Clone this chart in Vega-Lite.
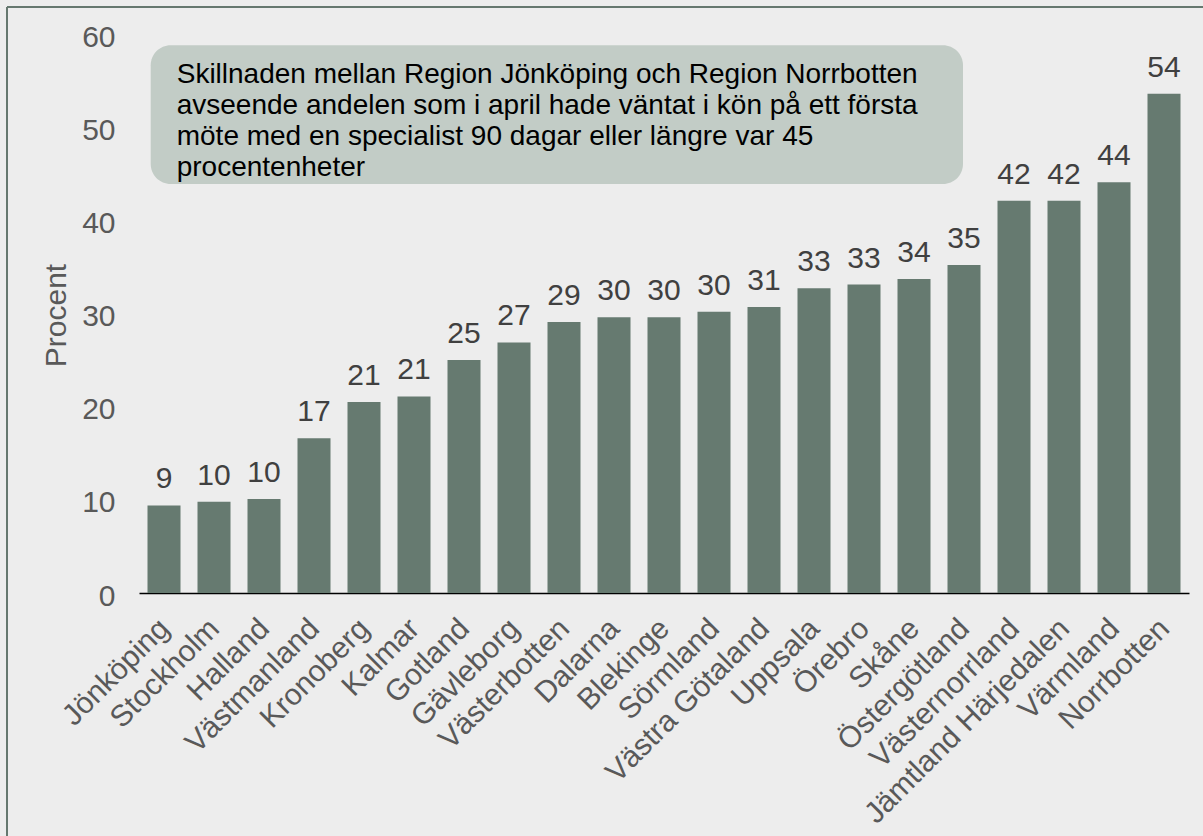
{
  "$schema": "https://vega.github.io/schema/vega-lite/v6.json",
  "width": 1050,
  "height": 559,
  "autosize": {"type": "none"},
  "padding": {"left": 139, "top": 34, "right": 14, "bottom": 243},
  "background": "#EDEDED",
  "config": {"view": {"stroke": null}, "font": "Liberation Sans"},
  "layer": [
    {
      "data": {
        "values": [
          {"region": "Jönköping", "value": 9.4},
          {"region": "Stockholm", "value": 9.8},
          {"region": "Halland", "value": 10.1},
          {"region": "Västmanland", "value": 16.6},
          {"region": "Kronoberg", "value": 20.5},
          {"region": "Kalmar", "value": 21.1},
          {"region": "Gotland", "value": 25.0},
          {"region": "Gävleborg", "value": 26.9},
          {"region": "Västerbotten", "value": 29.1},
          {"region": "Dalarna", "value": 29.6},
          {"region": "Blekinge", "value": 29.6},
          {"region": "Sörmland", "value": 30.2},
          {"region": "Västra Götaland", "value": 30.7},
          {"region": "Uppsala", "value": 32.7},
          {"region": "Örebro", "value": 33.1},
          {"region": "Skåne", "value": 33.7},
          {"region": "Östergötland", "value": 35.2},
          {"region": "Västernorrland", "value": 42.1},
          {"region": "Jämtland Härjedalen", "value": 42.1},
          {"region": "Värmland", "value": 44.1},
          {"region": "Norrbotten", "value": 53.6}
        ]
      },
      "encoding": {
        "x": {
          "field": "region",
          "type": "nominal",
          "sort": null,
          "scale": {"paddingInner": 0.34, "paddingOuter": 0.17},
          "axis": {
            "title": null,
            "labelAngle": -45,
            "labelFontSize": 30,
            "labelColor": "#595959",
            "labelLimit": 0,
            "labelOverlap": false,
            "labelPadding": 20,
            "labelOffset": -10,
            "ticks": false,
            "domainColor": "#000000",
            "domainWidth": 1.5
          }
        },
        "y": {
          "field": "value",
          "type": "quantitative",
          "scale": {"domain": [0, 60], "nice": false},
          "axis": {
            "title": "Procent",
            "titleFontSize": 30,
            "titleFontWeight": "normal",
            "titleColor": "#595959",
            "titleAngle": -90,
            "titleX": -83,
            "titleY": 281,
            "titleAlign": "center",
            "titleBaseline": "middle",
            "values": [0, 10, 20, 30, 40, 50, 60],
            "labelFontSize": 30,
            "labelColor": "#595959",
            "labelPadding": 24,
            "labelOffset": 3,
            "domain": false,
            "ticks": false,
            "grid": false
          }
        }
      },
      "layer": [
        {"mark": {"type": "bar", "color": "#667A70"}},
        {
          "mark": {"type": "text", "fontSize": 30, "color": "#404040", "dy": -17, "baseline": "alphabetic"},
          "encoding": {"text": {"field": "value", "type": "quantitative", "format": ".0f"}}
        }
      ]
    },
    {
      "data": {"values": [{"note": ["Skillnaden mellan Region Jönköping och Region Norrbotten", "avseende andelen som i april hade väntat i kön på ett första", "möte med en specialist 90 dagar eller längre var 45", "procentenheter"]}]},
      "layer": [
        {
          "mark": {"type": "rect", "color": "#C2CCC6", "cornerRadius": 20},
          "encoding": {
            "x": {"datum": 0.234, "type": "quantitative", "scale": {"domain": [0, 21], "nice": false, "zero": false}, "axis": null},
            "x2": {"datum": 16.48},
            "y": {"datum": 43.9, "type": "quantitative"},
            "y2": {"datum": 58.8}
          }
        },
        {
          "mark": {"type": "text", "fontSize": 28, "color": "#000000", "align": "left", "baseline": "alphabetic", "lineHeight": 31},
          "encoding": {
            "x": {"datum": 0.754, "type": "quantitative", "scale": {"domain": [0, 21], "nice": false, "zero": false}, "axis": null},
            "y": {"datum": 54.75, "type": "quantitative"},
            "text": {"field": "note"}
          }
        },
        {
          "mark": {"type": "rule", "color": "#66786F", "strokeWidth": 2, "clip": false},
          "encoding": {
            "x": {"datum": -2.64, "type": "quantitative", "scale": {"domain": [0, 21], "nice": false, "zero": false}, "axis": null},
            "x2": {"datum": 21.4},
            "y": {"datum": 62.9, "type": "quantitative"}
          }
        },
        {
          "mark": {"type": "rule", "color": "#66786F", "strokeWidth": 2, "clip": false},
          "encoding": {
            "x": {"datum": -2.64, "type": "quantitative", "scale": {"domain": [0, 21], "nice": false, "zero": false}, "axis": null},
            "y": {"datum": 62.9, "type": "quantitative"},
            "y2": {"datum": -27}
          }
        }
      ]
    }
  ],
  "resolve": {"scale": {"x": "independent"}}
}
